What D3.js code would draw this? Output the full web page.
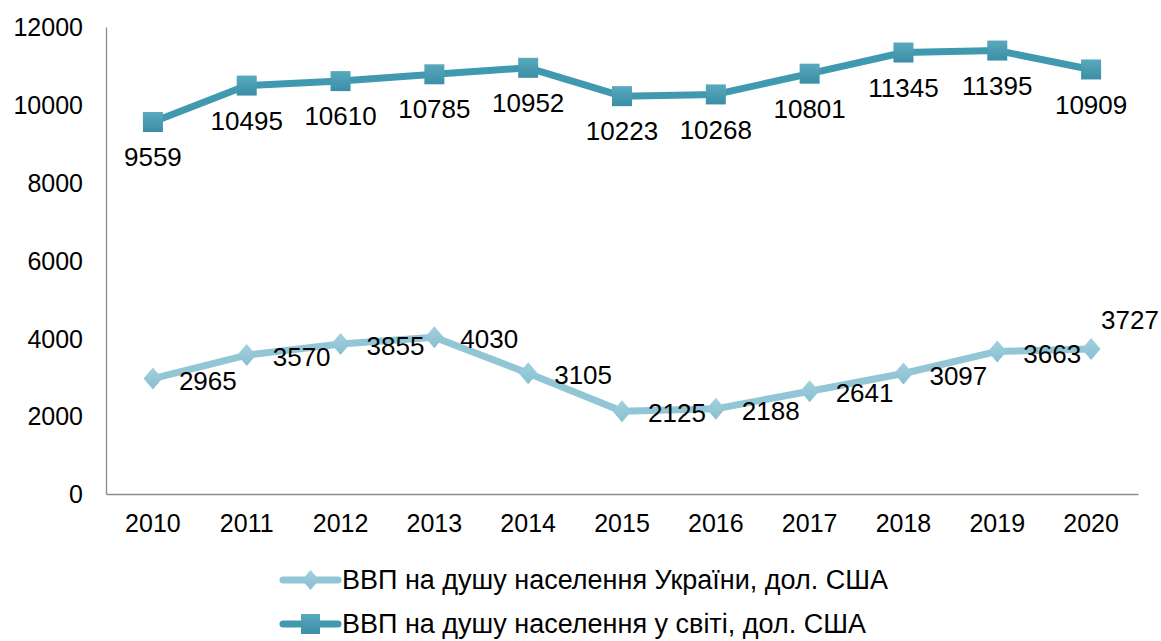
<!DOCTYPE html>
<html>
<head>
<meta charset="utf-8">
<script src="https://cdn.jsdelivr.net/npm/d3@7"></script>
<style>
  body { margin: 0; background: #fff; }
  text { font-family: "Liberation Sans", Arial, sans-serif; fill: #000; }
</style>
</head>
<body>
<div id="chart"></div>
<script>
// data
const years = ["2010", "2011", "2012", "2013", "2014", "2015", "2016", "2017", "2018", "2019", "2020"];
const ukraine = [2965, 3570, 3855, 4030, 3105, 2125, 2188, 2641, 3097, 3663, 3727];
const world = [9559, 10495, 10610, 10785, 10952, 10223, 10268, 10801, 11345, 11395, 10909];
const yTicks = [0, 2000, 4000, 6000, 8000, 10000, 12000];
const seriesNames = [
  "ВВП на душу населення України, дол. США",
  "ВВП на душу населення у світі, дол. США"
];

const W = 1161, H = 641;
const margin = { top: 27, right: 23, bottom: 147, left: 106 };
const innerW = W - margin.left - margin.right;
const innerH = H - margin.top - margin.bottom;

const svg = d3.select("#chart").append("svg")
  .attr("width", W)
  .attr("height", H);

const defs = svg.append("defs");
function grad(id, top, bottom) {
  const g = defs.append("linearGradient")
    .attr("id", id)
    .attr("x1", "0%").attr("y1", "0%")
    .attr("x2", "0%").attr("y2", "100%");
  g.append("stop").attr("offset", "0%").attr("stop-color", top);
  g.append("stop").attr("offset", "100%").attr("stop-color", bottom);
}
grad("gWorld", "#5aa9be", "#3a8ea6");
grad("gUkr", "#a3d0de", "#86bfd2");

const g = svg.append("g")
  .attr("transform", `translate(${margin.left},${margin.top})`);

const x = d3.scaleBand().domain(years).range([0, innerW]);
const y = d3.scaleLinear().domain([0, 12000]).range([innerH, 0]);
const cx = d => x(d) + x.bandwidth() / 2;

// axes
const yAxis = g.append("g").call(d3.axisLeft(y).tickValues(yTicks).tickFormat(d3.format("d")).tickSize(0).tickPadding(23));
yAxis.select(".domain").attr("stroke", "#8c8c8c").attr("stroke-width", 1.3);
yAxis.selectAll("text").attr("font-size", "25px").attr("dy", "0.35em");

const xAxis = g.append("g")
  .attr("transform", `translate(0,${innerH})`)
  .call(d3.axisBottom(x).tickSize(0).tickPadding(20));
xAxis.select(".domain").attr("stroke", "#8c8c8c").attr("stroke-width", 1.3);
xAxis.selectAll("text").attr("font-size", "25px");

const line = d3.line().x((d, i) => cx(years[i])).y(d => y(d));

function customDiamond(s) {
  return `M0,${-s} L${s * 0.85},0 L0,${s} L${-s * 0.85},0 Z`;
}

// Ukraine series
g.append("path")
  .datum(ukraine)
  .attr("d", line)
  .attr("fill", "none")
  .attr("stroke", "#92c6d7")
  .attr("stroke-width", 7)
  .attr("stroke-linejoin", "round");

g.selectAll(".m-ukr").data(ukraine).join("path")
  .attr("class", "m-ukr")
  .attr("transform", (d, i) => `translate(${cx(years[i])},${y(d)})`)
  .attr("d", customDiamond(11))
  .attr("fill", "url(#gUkr)");

g.selectAll(".l-ukr").data(ukraine).join("text")
  .attr("class", "l-ukr")
  .attr("x", (d, i) => cx(years[i]) + (i === ukraine.length - 1 ? 10 : 26))
  .attr("y", (d, i) => y(d) + (i === ukraine.length - 1 ? -29 : 2))
  .attr("dy", "0.35em")
  .attr("font-size", "26px")
  .text(d => d);

// World series
g.append("path")
  .datum(world)
  .attr("d", line)
  .attr("fill", "none")
  .attr("stroke", "#4199b0")
  .attr("stroke-width", 7)
  .attr("stroke-linejoin", "round");

g.selectAll(".m-world").data(world).join("rect")
  .attr("class", "m-world")
  .attr("x", (d, i) => cx(years[i]) - 10)
  .attr("y", d => y(d) - 10)
  .attr("width", 20)
  .attr("height", 20)
  .attr("fill", "url(#gWorld)");

g.selectAll(".l-world").data(world).join("text")
  .attr("class", "l-world")
  .attr("x", (d, i) => cx(years[i]))
  .attr("y", d => y(d) + 35)
  .attr("dy", "0.35em")
  .attr("text-anchor", "middle")
  .attr("font-size", "26px")
  .text(d => d);

// legend
const legend = svg.append("g").attr("transform", "translate(283,580)");
seriesNames.forEach((name, i) => {
  const row = legend.append("g").attr("transform", `translate(0,${i * 44})`);
  row.append("line")
    .attr("x1", 0).attr("x2", 55)
    .attr("stroke", i === 0 ? "#92c6d7" : "#4199b0")
    .attr("stroke-width", 7)
    .attr("stroke-linecap", "round");
  if (i === 0) {
    row.append("path").attr("transform", "translate(27.5,0)")
      .attr("d", customDiamond(10)).attr("fill", "url(#gUkr)");
  } else {
    row.append("rect").attr("x", 18).attr("y", -10)
      .attr("width", 19).attr("height", 20).attr("fill", "url(#gWorld)");
  }
  row.append("text")
    .attr("x", 59)
    .attr("dy", "0.32em")
    .attr("font-size", "27px")
    .text(name);
});
</script>
</body>
</html>
